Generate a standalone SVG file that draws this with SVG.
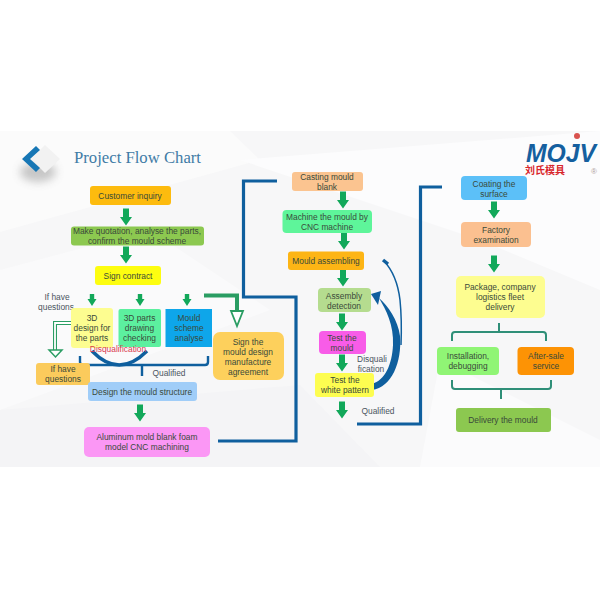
<svg xmlns="http://www.w3.org/2000/svg" width="600" height="600" viewBox="0 0 600 600">
<style>
text{font-family:"Liberation Sans",Arial,sans-serif;font-size:8.4px;fill:#3a4a3a;text-anchor:middle}
.l{fill:#4a5560}
.g{fill:#12a85a;stroke:none}
.b{fill:none;stroke:#0f5f9e;stroke-width:3.2}
.t{fill:none;stroke:#2f8f78;stroke-width:2;stroke-linejoin:round}
.dk{fill:none;stroke:#0f5f9e;stroke-width:2.4}
</style>
<defs>
<path id="arr" d="M-3,-8.500H3V0H6L0,8.500L-6,0H-3Z"/>
<path id="sm" d="M-2.200,-6H2.200V-1H4.500L0,6L-4.500,-1H-2.200Z"/>
<filter id="sh" x="-50%" y="-50%" width="200%" height="200%"><feGaussianBlur stdDeviation="4"/></filter>
</defs>
<rect width="600" height="600" fill="#fff"/>
<g id="background">
<rect y="131" width="600" height="336" fill="#f7f7f8"/>
<polygon points="0,131 230,131 260,160 0,232" fill="#fbfbfb"/>
<polygon points="240,160 600,131 600,290 480,240" fill="#fcfcfd"/>
<polygon points="0,270 150,230 270,310 0,410" fill="#fafafb"/>
<polygon points="0,410 300,385 380,467 0,467" fill="#f4f4f6"/>
<polygon points="440,360 600,440 600,467 420,467" fill="#fbfbfc"/>
</g>
<g id="title">
<ellipse cx="38" cy="172" rx="18" ry="10" fill="#888" opacity=".45" filter="url(#sh)"/>
<polygon points="45,145 60,159 45,173 31,159" fill="#f2f2f2"/>
<polygon points="36,146 40,150 30,159 40,168 36,172 22,159" fill="#1777b5"/>
<text x="74" y="163" style="font-family:'Liberation Serif',serif;font-size:16.7px;fill:#3f7ca6;text-anchor:start">Project Flow Chart</text>
</g>
<g id="logo">
<text x="526" y="162" style="font-size:26px;font-weight:bold;font-style:italic;fill:#155f9f;text-anchor:start" textLength="70" lengthAdjust="spacingAndGlyphs">MOJV</text>
<circle cx="577" cy="136" r="3" fill="#d9534f"/>
<text x="545" y="174" style="font-family:'Noto Sans CJK SC',sans-serif;font-size:10px;font-weight:bold;fill:#d8262c">刘氏模具</text>
<text x="594" y="174" style="font-size:8px;fill:#b0a0a0">®</text>
</g>
<g id="connectors">
<use href="#arr" class="g" x="126" y="217"/>
<use href="#arr" class="g" x="126" y="255"/>
<use href="#sm" class="g" x="92" y="300"/>
<use href="#sm" class="g" x="140" y="300"/>
<use href="#sm" class="g" x="187" y="300"/>
<use href="#arr" class="g" x="140" y="413"/>
<use href="#arr" class="g" x="343" y="200"/>
<use href="#arr" class="g" x="344" y="241"/>
<use href="#arr" class="g" x="343" y="278"/>
<use href="#arr" class="g" x="342" y="322"/>
<use href="#arr" class="g" x="342" y="363"/>
<use href="#arr" class="g" x="342" y="410"/>
<use href="#arr" class="g" x="494" y="210"/>
<use href="#arr" class="g" x="494" y="264"/>
<path d="M204,295.500H237V311" fill="none" stroke="#2a9d63" stroke-width="4"/>
<polygon points="231,311 243,311 237,326" fill="#fff" stroke="#2a9d63" stroke-width="1.800"/>
<path d="M72,323H55V351" fill="none" stroke="#2a9d63" stroke-width="4"/>
<path d="M72,323H55V352" fill="none" stroke="#fff" stroke-width="1.800"/>
<polygon points="49,350 62,350 55.500,357" fill="#fff" stroke="#2a9d63" stroke-width="1.500"/>
<path d="M80,356V362Q80,365 83,365H205Q208,365 208,362V356M142,365V376" class="dk"/>
<path d="M92,351Q119,379 147,351" fill="none" stroke="#0f5f9e" stroke-width="3.500"/>
<path d="M218,441H296V297H243.500V181H277" class="b"/>
<path d="M357,424H420.500V187H442" class="b"/>
<path d="M372,390C392,387 402,362 400,336C398,320 388,306 379,298C386,310 394,325 393,345C392,365 385,380 372,384Z" fill="#0f5f9e"/>
<path d="M371,294L381,291L378,305Z" fill="#0f5f9e"/>
<path d="M384,261Q397,275 400,300Q402,320 401,345" fill="none" stroke="#0f5f9e" stroke-width="1.500"/>
<path d="M383,260L388,264" stroke="#0f5f9e" stroke-width="3.500"/>
<path d="M452,341V335Q452,332 455,332H543Q546,332 546,335V341M499,323V332" class="t"/>
<path d="M452,380V386Q452,389 455,389H548Q551,389 551,386V380M501,389V399" class="t"/>
</g>
<g id="customer-inquiry"><rect x="90" y="186" width="81" height="19" rx="3" fill="#fdbb0e"/><text x="130" y="199">Customer inquiry</text></g>
<g id="make-quotation"><rect x="71" y="226.500" width="133" height="19" rx="3" fill="#8cc850"/><text x="137" y="234">Make quotation, analyse the parts,</text><text x="137" y="244">confirm the mould scheme</text></g>
<g id="sign-contract"><rect x="95" y="266" width="66" height="19" rx="3" fill="#fdfd10"/><text x="128" y="279">Sign contract</text></g>
<g id="if-have-label"><text class="l" x="57" y="300">If have</text><text class="l" x="56" y="310">questions</text></g>
<g id="design-parts"><rect x="71" y="308" width="42" height="40" rx="3" fill="#fdfd90"/><text x="92" y="321">3D</text><text x="92" y="331">design for</text><text x="92" y="341">the parts</text></g>
<g id="drawing-checking"><rect x="118.500" y="309" width="42.500" height="38" rx="2" fill="#5cf09f"/><text x="139.500" y="321">3D parts</text><text x="139.500" y="331">drawing</text><text x="139.500" y="341">checking</text></g>
<g id="scheme-analyse"><rect x="165.500" y="309" width="46.500" height="38" fill="#0ea6ea"/><text x="189" y="321">Mould</text><text x="189" y="331">scheme</text><text x="189" y="341">analyse</text></g>
<g id="sign-agreement"><rect x="213" y="332" width="71" height="48" rx="7" fill="#fdd05c"/><text x="248" y="345">Sign the</text><text x="248" y="355">mould design</text><text x="248" y="365">manufacture</text><text x="248" y="375">agreement</text></g>
<g id="disqualification"><text x="118" y="352" style="fill:#d83a50">Disqualification</text></g>
<g id="questions-box"><rect x="36" y="363" width="54" height="22" rx="3" fill="#fbcb5c"/><text x="63" y="372">If have</text><text x="63" y="382">questions</text></g>
<g id="qualified-1"><text class="l" x="169" y="376">Qualified</text></g>
<g id="design-structure"><rect x="88" y="382" width="109" height="19" rx="3" fill="#a0cdf8"/><text x="142" y="395">Design the mould structure</text></g>
<g id="aluminum"><rect x="84" y="427" width="126" height="30" rx="5" fill="#fb97f5"/><text x="147" y="440">Aluminum mold blank foam</text><text x="147" y="450">model CNC machining</text></g>
<g id="casting"><rect x="292" y="172" width="71" height="19" rx="3" fill="#fbc490"/><text x="327" y="180">Casting mould</text><text x="327" y="190">blank</text></g>
<g id="machine"><rect x="282.500" y="210" width="89.500" height="23" rx="4" fill="#5ef59a"/><text x="327" y="220">Machine the mould by</text><text x="327" y="230">CNC machine</text></g>
<g id="assembling"><rect x="288" y="251.500" width="76" height="18.500" rx="3" fill="#fdb515"/><text x="326" y="264">Mould assembling</text></g>
<g id="assembly-detection"><rect x="318" y="288" width="53" height="24" rx="4" fill="#b5dc8f"/><text x="344" y="299">Assembly</text><text x="344" y="309">detection</text></g>
<g id="test-mould"><rect x="319" y="331" width="47" height="23" rx="4" fill="#f85ce8"/><text x="342" y="341">Test the</text><text x="342" y="351">mould</text></g>
<g id="disquali-label"><text class="l" x="372" y="362">Disquali</text><text class="l" x="371" y="372">fication</text></g>
<g id="white-pattern"><rect x="315" y="373" width="59" height="24" rx="3" fill="#fdfd50"/><text x="345" y="383">Test the</text><text x="345" y="393">white pattern</text></g>
<g id="qualified-2"><text class="l" x="378" y="414">Qualified</text></g>
<g id="coating"><rect x="461" y="176" width="66" height="24" rx="4" fill="#5cc0f8"/><text x="494" y="187">Coating the</text><text x="494" y="197">surface</text></g>
<g id="factory"><rect x="461" y="222" width="70" height="25" rx="4" fill="#fbc090"/><text x="496" y="233">Factory</text><text x="496" y="243">examination</text></g>
<g id="package"><rect x="456" y="276" width="89" height="42" rx="5" fill="#fdfd90"/><text x="500" y="290">Package, company</text><text x="500" y="300">logistics fleet</text><text x="500" y="310">delivery</text></g>
<g id="installation"><rect x="437" y="347" width="62" height="28" rx="4" fill="#90f575"/><text x="468" y="359">Installation,</text><text x="468" y="369">debugging</text></g>
<g id="after-sale"><rect x="517.500" y="347" width="56.500" height="28" rx="4" fill="#fd9305"/><text x="546" y="359">After-sale</text><text x="546" y="369">service</text></g>
<g id="delivery"><rect x="456" y="408" width="95" height="24" rx="3" fill="#8cc850"/><text x="503" y="423">Delivery the mould</text></g>
</svg>
